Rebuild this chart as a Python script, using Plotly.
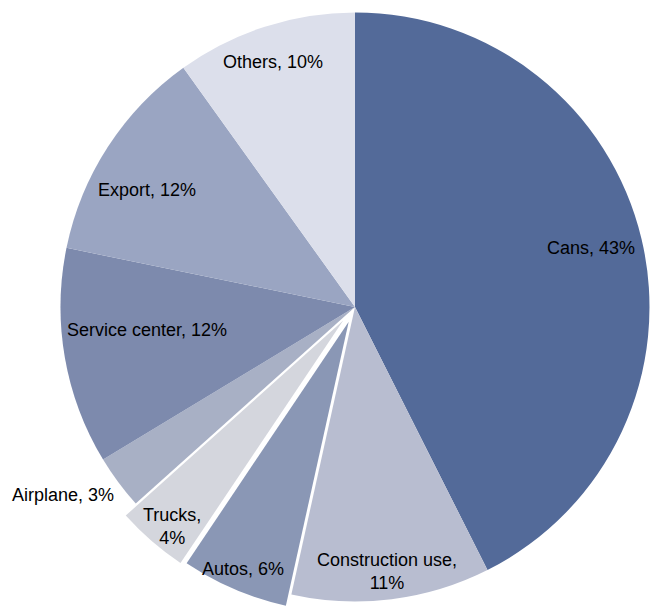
import numpy as np
import plotly.graph_objects as go

# Share of shipments by end use (percent)
categories = ["Cans", "Construction use", "Autos", "Trucks", "Airplane",
              "Service center", "Export", "Others"]
shares = [43, 11, 6, 4, 3, 12, 12, 10]
label_lines = [["Cans, 43%"], ["Construction use,", "11%"], ["Autos, 6%"],
               ["Trucks,", "4%"], ["Airplane, 3%"], ["Service center, 12%"],
               ["Export, 12%"], ["Others, 10%"]]

# Styling
colors = ["#536A99", "#B8BDD0", "#8A97B5", "#D4D6DD", "#A8B0C5",
          "#7D8AAD", "#9AA5C2", "#DCDFEB"]
W, H = 650, 613
CX, CY, R = 355.0, 307.0, 294.5          # pie centre / radius in pixels
explode_px = {"Autos": 16.0, "Trucks": 18.0}   # pull-out distance along bisector
label_radius = [0.827, 0.906, 0.925, 0.916, 1.179, 0.711, 0.81, 0.877]
label_nudge = [-0.7, 0.2, 0.0, -1.2, 3.7, 3.5, -3.6, -0.7]  # degrees
FONT = dict(family="Arial, Liberation Sans, sans-serif", size=18, color="#000000")

total = float(sum(shares))
cum = np.cumsum([0] + shares)
mid_deg = [(cum[i] + shares[i] / 2) / total * 360.0 for i in range(len(shares))]


def unit(deg):
    a = np.radians(deg)
    return np.sin(a), np.cos(a)   # x right, y up (clockwise from 12 o'clock)


def domain(cx, cy, r):
    x0, x1 = (cx - r) / W, (cx + r) / W
    y0, y1 = 1 - (cy + r) / H, 1 - (cy - r) / H
    return dict(x=[max(0.0, x0), min(1.0, x1)], y=[max(0.0, y0), min(1.0, y1)])


def pie_trace(visible, cx, cy, r):
    cols = [c if v else "rgba(0,0,0,0)" for c, v in zip(colors, visible)]
    return go.Pie(
        labels=categories, values=shares, sort=False, direction="clockwise",
        rotation=0, domain=domain(cx, cy, r), textinfo="none",
        hoverinfo="label+percent",
        marker=dict(colors=cols, line=dict(width=0)),
        showlegend=False,
    )


fig = go.Figure()

# main body of the pie (exploded slices left transparent)
fig.add_trace(pie_trace([c not in explode_px for c in categories], CX, CY, R))

centres = {i: (CX, CY, R) for i in range(len(categories))}
# exploded slices, each drawn in its own pie shifted along its bisector
for name, d in explode_px.items():
    i = categories.index(name)
    ux, uy = unit(mid_deg[i])
    cx, cy = CX + d * ux, CY - d * uy
    r = min(R, H - cy - 0.4)
    centres[i] = (cx, cy, r)
    fig.add_trace(pie_trace([c == name for c in categories], cx, cy, r))

# slice labels
for i, lines in enumerate(label_lines):
    cx, cy, r = centres[i]
    ux, uy = unit(mid_deg[i] + label_nudge[i])
    px = cx + label_radius[i] * r * ux
    py = cy - label_radius[i] * r * uy
    fig.add_annotation(
        x=px / W, y=1 - py / H, xref="paper", yref="paper",
        text="<br>".join(lines), showarrow=False, font=FONT,
        xanchor="center", yanchor="middle", align="center",
    )

fig.update_layout(
    width=W, height=H, margin=dict(l=0, r=0, t=0, b=0),
    paper_bgcolor="white", plot_bgcolor="white", showlegend=False,
)

fig.write_html("out.html")
